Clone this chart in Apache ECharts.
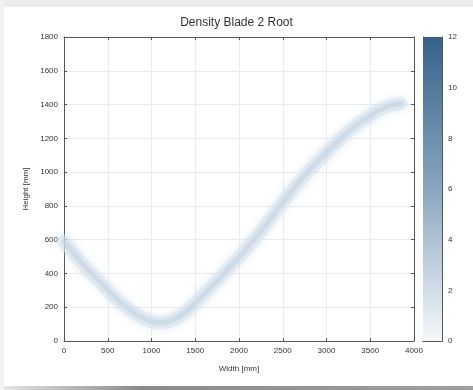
<!DOCTYPE html>
<html>
<head>
<meta charset="utf-8">
<script src="https://cdn.jsdelivr.net/npm/echarts@6/dist/echarts.min.js"></script>
<style>
html,body{margin:0;padding:0;background:#fff;}
#chart{width:473px;height:390px;}
</style>
</head>
<body>
<div id="chart"></div>
<script>
// Data (centre line of the density band)
var widths  = [0, 100, 250, 400, 550, 700, 850, 1000, 1100, 1200, 1350, 1500, 1700, 1900, 2050, 2250, 2500, 2750, 3000, 3250, 3500, 3700, 3850];
var heights = [590, 525, 435, 355, 275, 205, 150, 115, 108, 115, 155, 225, 330, 440, 525, 650, 820, 980, 1115, 1240, 1335, 1390, 1405];
var xTicks = [0, 500, 1000, 1500, 2000, 2500, 3000, 3500, 4000];
var yTicks = [0, 200, 400, 600, 800, 1000, 1200, 1400, 1600, 1800];
var cbTicks = [0, 2, 4, 6, 8, 10, 12];
var cbMax = [12];

var pts = widths.map(function (w, i) { return [w, heights[i]]; });
var font = 'Liberation Sans, Arial, sans-serif';
var axCol = '#555';
var plain = function (v) { return String(v); };

var chart = echarts.init(document.getElementById('chart'), null, {renderer: 'canvas'});
chart.setOption({
  backgroundColor: '#fff',
  animation: false,
  title: {
    text: 'Density Blade 2 Root',
    left: 'center', top: 12,
    textStyle: {fontFamily: font, fontSize: 12, fontWeight: 'normal', color: '#333'}
  },
  graphic: [
    {type: 'rect', shape: {x: 0, y: 0, width: 473, height: 7}, style: {fill: '#ececec'}, silent: true},
    {type: 'rect', shape: {x: 0, y: 386, width: 473, height: 4},
     style: {fill: new echarts.graphic.LinearGradient(0, 0, 1, 0, [
       {offset: 0, color: '#e6e6e6'}, {offset: 0.3, color: '#8a8a8a'}, {offset: 1, color: '#a0a0a0'}])}, silent: true},
    {type: 'rect', shape: {x: 0, y: 0, width: 4, height: 390}, style: {fill: '#f3f3f3'}, silent: true}
  ],
  grid: [
    {left: 64, right: 59, top: 37, bottom: 49},
    {left: 423, width: 19, top: 37, bottom: 49}
  ],
  xAxis: [
    {type: 'value', gridIndex: 0, min: xTicks[0], max: xTicks[xTicks.length - 1], interval: 500, position: 'bottom',
     name: 'Width [mm]', nameLocation: 'middle', nameGap: 24,
     nameTextStyle: {fontFamily: font, fontSize: 8, color: '#333'},
     axisLine: {show: true, onZero: false, lineStyle: {color: axCol, width: 1}},
     axisTick: {show: true, inside: true, length: 3, lineStyle: {color: axCol}},
     axisLabel: {fontFamily: font, fontSize: 8, color: '#333', margin: 6, formatter: plain},
     splitLine: {show: true, lineStyle: {color: '#ebebeb', width: 1}}},
    {type: 'value', gridIndex: 0, min: xTicks[0], max: xTicks[xTicks.length - 1], interval: 500, position: 'top',
     axisLine: {show: true, onZero: false, lineStyle: {color: axCol, width: 1}},
     axisTick: {show: true, inside: true, length: 3, lineStyle: {color: axCol}},
     axisLabel: {show: false}, splitLine: {show: false}},
    {type: 'category', gridIndex: 1, data: ['c'], show: true,
     axisLine: {show: true, lineStyle: {color: axCol}}, axisTick: {show: false}, axisLabel: {show: false}, position: 'bottom'},
    {type: 'category', gridIndex: 1, data: ['c'], show: true, position: 'top',
     axisLine: {show: true, lineStyle: {color: axCol}}, axisTick: {show: false}, axisLabel: {show: false}}
  ],
  yAxis: [
    {type: 'value', gridIndex: 0, min: yTicks[0], max: yTicks[yTicks.length - 1], interval: 200, position: 'left',
     name: 'Height [mm]', nameLocation: 'middle', nameGap: 29,
     nameTextStyle: {fontFamily: font, fontSize: 8, color: '#333'},
     axisLine: {show: true, onZero: false, lineStyle: {color: axCol, width: 1}},
     axisTick: {show: true, inside: true, length: 3, lineStyle: {color: axCol}},
     axisLabel: {fontFamily: font, fontSize: 8, color: '#333', margin: 6, formatter: plain},
     splitLine: {show: true, lineStyle: {color: '#ebebeb', width: 1}}},
    {type: 'value', gridIndex: 0, min: yTicks[0], max: yTicks[yTicks.length - 1], interval: 200, position: 'right',
     axisLine: {show: true, onZero: false, lineStyle: {color: axCol, width: 1}},
     axisTick: {show: true, inside: true, length: 3, lineStyle: {color: axCol}},
     axisLabel: {show: false}, splitLine: {show: false}},
    {type: 'value', gridIndex: 1, min: cbTicks[0], max: cbTicks[cbTicks.length - 1], interval: 2, position: 'right',
     axisLine: {show: true, lineStyle: {color: axCol, width: 1}},
     axisTick: {show: true, inside: true, length: 3, lineStyle: {color: axCol}},
     axisLabel: {fontFamily: font, fontSize: 8, color: '#333', margin: 6, formatter: plain},
     splitLine: {show: false}},
    {type: 'value', gridIndex: 1, min: cbTicks[0], max: cbTicks[cbTicks.length - 1], interval: 2, position: 'left',
     axisLine: {show: true, lineStyle: {color: axCol, width: 1}},
     axisTick: {show: true, inside: true, length: 3, lineStyle: {color: axCol}},
     axisLabel: {show: false}, splitLine: {show: false}}
  ],
  series: [
    {type: 'line', xAxisIndex: 0, yAxisIndex: 0, data: pts, smooth: 0.35, symbol: 'none',
     lineStyle: {color: 'rgba(214,225,236,0.55)', width: 13, cap: 'round', join: 'round',
                 shadowBlur: 8, shadowColor: 'rgba(205,218,231,0.9)'}},
    {type: 'line', xAxisIndex: 0, yAxisIndex: 0, data: pts, smooth: 0.35, symbol: 'none',
     lineStyle: {color: 'rgba(196,211,226,0.45)', width: 5, cap: 'round', join: 'round',
                 shadowBlur: 3, shadowColor: 'rgba(196,211,226,0.6)'}},
    {type: 'bar', xAxisIndex: 2, yAxisIndex: 2, data: cbMax, barWidth: '100%', silent: true,
     itemStyle: {color: new echarts.graphic.LinearGradient(0, 0, 0, 1, [
       {offset: 0, color: '#37618a'}, {offset: 0.5, color: '#8aa6bf'}, {offset: 1, color: '#f6f8fa'}])}}
  ]
});
</script>
</body>
</html>
